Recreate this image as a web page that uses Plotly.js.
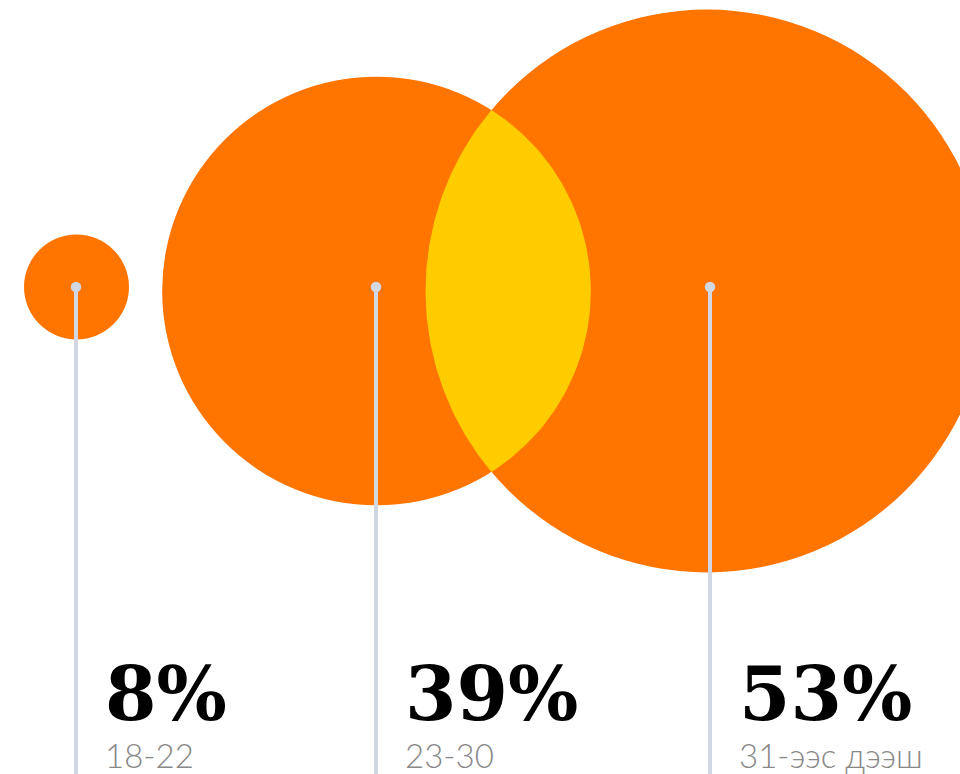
<!DOCTYPE html>
<html>
<head>
<meta charset="utf-8">
<script src="https://cdn.plot.ly/plotly-3.0.1.min.js"></script>
<style>html,body{margin:0;padding:0;background:#fff;}#chart{width:960px;height:774px;}</style>
</head>
<body>
<div id="chart"></div>
<script>
// ---- data ----
const categories = ["18-22", "23-30", "31-ээс дээш"];
const values = [8, 39, 53];
const valueLabels = ["8%", "39%", "53%"];

// ---- layout constants (pixel space) ----
const W = 960, H = 774;
const centersX = [76.5, 376.5, 707];
const stemX = [76, 376, 710];
const circleY = [287, 291, 291];
const dotY = 287;
const ORANGE = "#ff7500", YELLOW = "#ffcc00", LINE = "#d2d7e4";

// radius scale from value
const rScale = v => 52.5 * Math.pow(v / 8, 0.888);
const radii = values.map(rScale);

const shapes = [];
radii.forEach((r, i) => {
  shapes.push({type: "circle", xref: "x", yref: "y",
    x0: centersX[i] - r, x1: centersX[i] + r, y0: circleY[i] - r, y1: circleY[i] + r,
    fillcolor: ORANGE, line: {width: 0}, layer: "below"});
});

// lens (intersection of circle 2 and 3)
function lensPath(ax, ay, ar, bx, by, br) {
  const d = bx - ax;
  const a = (d * d + ar * ar - br * br) / (2 * d);
  const h = Math.sqrt(ar * ar - a * a);
  const ix = ax + a;
  const angA = Math.atan2(h, a);
  const angB = Math.atan2(h, ix - bx);
  const pts = [];
  const N = 80;
  for (let k = 0; k <= N; k++) {
    const t = -angA + (2 * angA) * k / N;
    pts.push([ax + ar * Math.cos(t), ay + ar * Math.sin(t)]);
  }
  for (let k = 0; k <= N; k++) {
    const t = angB - (2 * (angB - Math.PI)) * k / N;
    pts.push([bx + br * Math.cos(t), by + br * Math.sin(t)]);
  }
  return pts;
}
const lens = lensPath(centersX[1], circleY[1], radii[1], centersX[2], circleY[2], radii[2]);

const traces = [];
traces.push({type: "scatter", mode: "lines", x: lens.map(p => p[0]), y: lens.map(p => p[1]),
  fill: "toself", fillcolor: YELLOW, line: {width: 0, color: YELLOW}, hoverinfo: "skip"});

// stems
categories.forEach((c, i) => {
  traces.push({type: "scatter", mode: "lines", x: [stemX[i], stemX[i]], y: [dotY, H + 5],
    line: {color: LINE, width: 4}, hoverinfo: "skip"});
});
traces.push({type: "scatter", mode: "markers", x: stemX, y: categories.map(() => dotY),
  marker: {color: LINE, size: 10.5}, hoverinfo: "skip"});

const annotations = [];
categories.forEach((c, i) => {
  annotations.push({x: stemX[i] + 27, y: 694, xref: "x", yref: "y", xanchor: "left", yanchor: "middle",
    text: valueLabels[i], showarrow: false,
    font: {family: "DejaVu Serif", size: 74, color: "#000", weight: "bold"}});
  annotations.push({x: stemX[i] + 27, y: 755, xref: "x", yref: "y", xanchor: "left", yanchor: "middle",
    text: c, showarrow: false,
    font: {family: "Lato", size: 33, color: "#888888", weight: 300}});
});

Plotly.newPlot("chart", traces, {
  width: W, height: H, margin: {l: 0, r: 0, t: 0, b: 0},
  paper_bgcolor: "#fff", plot_bgcolor: "#fff", showlegend: false,
  xaxis: {range: [0, W], visible: false, fixedrange: true},
  yaxis: {range: [H, 0], visible: false, fixedrange: true},
  shapes: shapes, annotations: annotations
}, {staticPlot: true, displayModeBar: false});
</script>
</body>
</html>
